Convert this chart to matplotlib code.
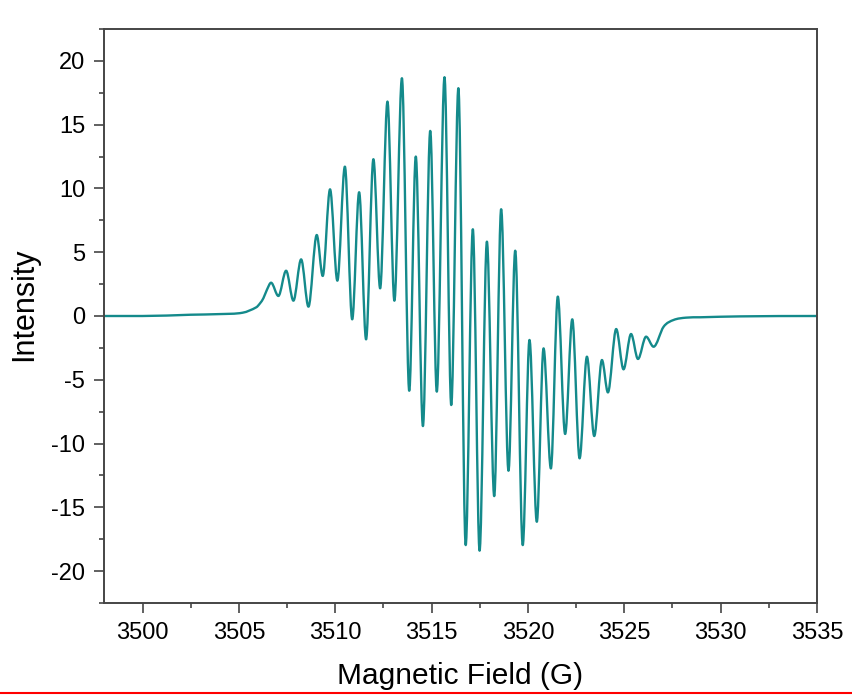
import numpy as np
import matplotlib
matplotlib.use("Agg")
import matplotlib.pyplot as plt
from matplotlib.lines import Line2D
from matplotlib.path import Path
from matplotlib.patches import PathPatch
from matplotlib.ticker import MultipleLocator

# EPR spectrum: turning points of the trace (G, intensity)
field = [
    3498.0, 3500.0, 3502.5, 3504.0, 3505.2, 3505.9, 3506.1, 3506.27, 3506.45,
    3506.67, 3507.05, 3507.45, 3507.83, 3508.23, 3508.61, 3509.04, 3509.35,
    3509.73, 3510.11, 3510.50, 3510.88, 3511.24, 3511.60, 3511.98, 3512.33,
    3512.71, 3513.07, 3513.46, 3513.84, 3514.18, 3514.55, 3514.93, 3515.27,
    3515.67, 3516.02, 3516.39, 3516.77, 3517.14, 3517.49, 3517.87, 3518.25,
    3518.61, 3518.99, 3519.34, 3519.73, 3520.08, 3520.46, 3520.81, 3521.19,
    3521.55, 3521.93, 3522.30, 3522.68, 3523.06, 3523.44, 3523.84, 3524.15,
    3524.58, 3524.96, 3525.35, 3525.71, 3526.13, 3526.52, 3527.04, 3527.56,
    3528.2, 3528.94, 3531.0, 3535.0,
]
intensity = [
    0.0, 0.0, 0.1, 0.15, 0.26, 0.68, 1.0, 1.39, 2.04,
    2.61, 1.57, 3.55, 1.20, 4.44, 0.73, 6.35, 3.14,
    9.93, 2.77, 11.71, -0.26, 9.70, -1.83, 12.29, 2.17,
    16.81, 1.20, 18.64, -5.86, 12.50, -8.63, 14.51, -5.93,
    18.72, -6.98, 17.86, -17.96, 6.80, -18.40, 5.83, -14.12,
    8.37, -12.13, 5.12, -17.96, -1.88, -16.13, -2.54, -11.95,
    1.52, -9.25, -0.26, -11.16, -3.19, -9.41, -3.45, -5.99,
    -1.02, -4.18, -1.41, -3.37, -1.62, -2.41, -0.84, -0.31,
    -0.13, -0.10, -0.03, 0.0,
]

plt.rcParams['font.family'] = ['Liberation Sans', 'DejaVu Sans']
plt.rcParams['axes.unicode_minus'] = False


def smooth_trace(xs, ys):
    """Bezier path through the read points, flat at each turning point."""
    x = np.asarray(xs, dtype=float)
    y = np.asarray(ys, dtype=float)
    n = len(x)
    slope = np.zeros(n)
    for i in range(1, n - 1):
        if (y[i] - y[i - 1]) * (y[i + 1] - y[i]) > 0:
            slope[i] = (y[i + 1] - y[i - 1]) / (x[i + 1] - x[i - 1])
    verts = [(x[0], y[0])]
    codes = [Path.MOVETO]
    for i in range(n - 1):
        h = x[i + 1] - x[i]
        verts += [(x[i] + h / 3, y[i] + slope[i] * h / 3),
                  (x[i + 1] - h / 3, y[i + 1] - slope[i + 1] * h / 3),
                  (x[i + 1], y[i + 1])]
        codes += [Path.CURVE4] * 3
    return Path(verts, codes)


fig = plt.figure(figsize=(8.52, 6.97), dpi=100)
ax = fig.add_axes([104 / 852, 1 - 603 / 697, 713 / 852, 574 / 697])

ax.add_patch(PathPatch(smooth_trace(field, intensity), fill=False,
                       edgecolor='#148a8b', lw=1.7, joinstyle='round'))

ax.set_xlim(3498, 3535)
ax.set_ylim(-22.5, 22.5)
ax.xaxis.set_major_locator(MultipleLocator(5))
ax.xaxis.set_minor_locator(MultipleLocator(2.5))
ax.yaxis.set_major_locator(MultipleLocator(5))
ax.yaxis.set_minor_locator(MultipleLocator(2.5))

for side in ['left', 'right', 'top', 'bottom']:
    ax.spines[side].set_color('#454545')
    ax.spines[side].set_linewidth(1.4)

ax.tick_params(which='major', direction='out', length=7.5, width=1.2,
               color='#454545', labelsize=17, pad=6)
ax.tick_params(which='minor', direction='out', length=3.8, width=1.2,
               color='#454545')

ax.set_xlabel('Magnetic Field (G)', fontsize=21.5, labelpad=13)
ax.set_ylabel('Intensity', fontsize=22, labelpad=9)
ax.yaxis.label.set_y(0.52)

# red rule along the bottom edge of the reference image
fig.add_artist(Line2D([0, 1], [1 - 693 / 697] * 2, color='red', lw=1.5,
                      transform=fig.transFigure))

fig.savefig('out.png', dpi=100)
